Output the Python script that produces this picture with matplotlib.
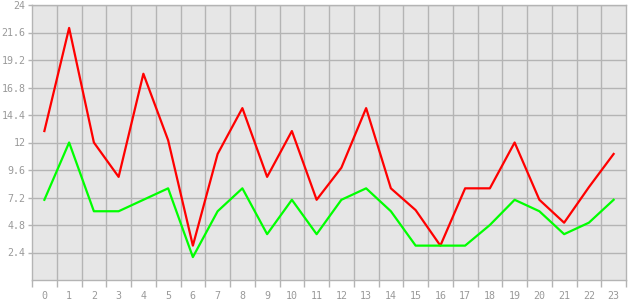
import numpy as np
import matplotlib
matplotlib.use('Agg')
import matplotlib.pyplot as plt
from matplotlib.ticker import FixedLocator

## chart data
hours = list(range(24))
red_vals = [13, 22, 12, 9, 18, 12.2, 3, 11, 15, 9, 13, 7,
            9.8, 15, 8, 6.1, 3, 8, 8, 12, 7, 5, 8.1, 11]
green_vals = [7, 12, 6, 6, 7, 8, 2, 6, 8, 4, 7, 4,
              7, 8, 6, 3, 3, 3, 4.8, 7, 6, 4, 5, 7]
y_ticks = [2.4, 4.8, 7.2, 9.6, 12, 14.4, 16.8, 19.2, 21.6, 24]
y_labels = ['2.4', '4.8', '7.2', '9.6', '12', '14.4', '16.8', '19.2', '21.6', '24']

grid_col = '#b4b4b4'
txt_col = '#999999'

fig = plt.figure(figsize=(6.3, 3.0), dpi=100)
ax = fig.add_axes([32/630, 20/300, 594/630, 275/300])
ax.set_facecolor('#e6e6e6')

ax.plot(hours, red_vals, color='#ff0000', lw=1.6, zorder=3)
ax.plot(hours, green_vals, color='#00ff00', lw=1.6, zorder=3)

ax.set_xlim(-0.5, 23.5)
ax.set_ylim(0, 24)

## gridlines: vertical between categories, horizontal at ticks
for b in np.arange(0.5, 23.5, 1.0):
    ax.axvline(b, color=grid_col, lw=1, zorder=1)
for t in y_ticks:
    ax.axhline(t, color=grid_col, lw=1, zorder=1)

ax.set_xticks(hours)
ax.set_xticklabels([str(h) for h in hours])
ax.xaxis.set_minor_locator(FixedLocator(np.arange(-0.5, 24.0, 1.0)))
ax.set_yticks(y_ticks)
ax.set_yticklabels(y_labels)

ax.tick_params(axis='x', which='major', length=0, pad=8, labelsize=7.2, labelcolor=txt_col)
ax.tick_params(axis='x', which='minor', length=5, color=grid_col, width=1)
ax.tick_params(axis='y', length=3, color=grid_col, width=1, pad=1.5, labelsize=7.2, labelcolor=txt_col)
for lab in ax.get_xticklabels() + ax.get_yticklabels():
    lab.set_family('DejaVu Sans Mono')

for s in ax.spines.values():
    s.set_color(grid_col)
    s.set_linewidth(1)

fig.savefig('out.png', dpi=100)
